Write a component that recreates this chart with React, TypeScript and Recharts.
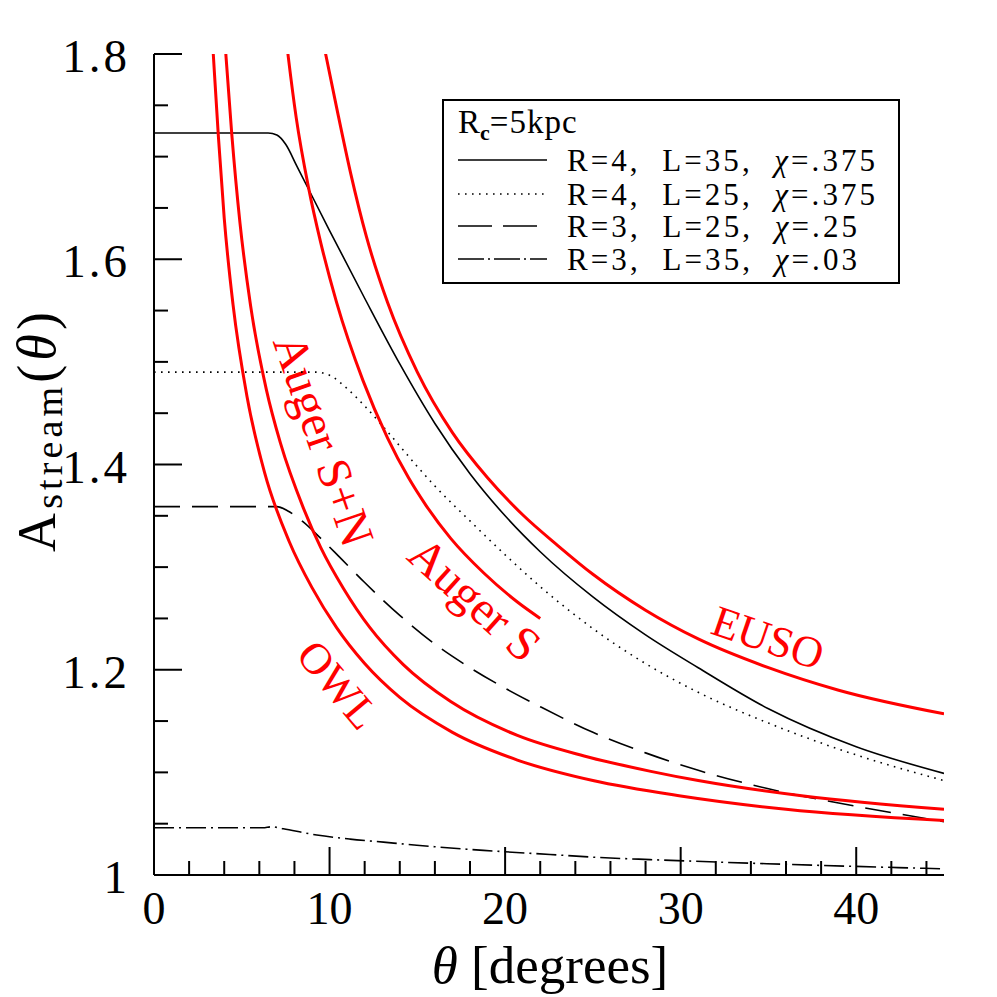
import React from 'react';
import { LineChart, Line, XAxis, YAxis, Customized } from 'recharts';

// ---- tick values ----
const thetaTicks = [0, 2, 4, 6, 8, 10, 12, 14, 16, 18, 20, 22, 24, 26, 28, 30, 32, 34, 36, 38, 40, 42, 44];
const thetaMajor = [0, 10, 20, 30, 40];
const aTicks = [1, 1.05, 1.1, 1.15, 1.2, 1.25, 1.3, 1.35, 1.4, 1.45, 1.5, 1.55, 1.6, 1.65, 1.7, 1.75, 1.8];
const aMajorLabels: Record<string, string> = { '1.00': '1', '1.20': '1.2', '1.40': '1.4', '1.60': '1.6', '1.80': '1.8' };

// ---- series (theta [deg], A_stream) ----
const owl = [[3.2, 1.85], [3.38, 1.799], [3.67, 1.719], [4.0, 1.64], [4.5, 1.556], [5.3, 1.466], [6.3, 1.392], [7.7, 1.325], [9.0, 1.28], [10.4, 1.241], [12.0, 1.206], [14.0, 1.173], [17.0, 1.139], [20.7, 1.112], [25.0, 1.092], [30.0, 1.077], [36.0, 1.064], [45.0, 1.053]];
const augerSN = [[3.9, 1.85], [4.1, 1.798], [4.43, 1.722], [4.9, 1.635], [5.5, 1.555], [6.4, 1.473], [7.2, 1.421], [8.5, 1.358], [9.5, 1.319], [10.8, 1.279], [12.3, 1.241], [14.2, 1.205], [16.9, 1.169], [20.7, 1.136], [24.5, 1.116], [28.3, 1.101], [31.0, 1.092], [37.0, 1.077], [45.0, 1.064]];
const augerS = [[7.3, 1.849], [7.65, 1.797], [8.1, 1.738], [8.8, 1.67], [9.5, 1.616], [10.4, 1.558], [11.9, 1.482], [13.3, 1.426], [14.5, 1.387], [15.5, 1.36], [16.9, 1.328], [18.8, 1.294], [20.7, 1.266], [22.0, 1.25]];
const euso = [[9.2, 1.85], [9.8, 1.798], [10.4, 1.748], [11.2, 1.684], [12.1, 1.622], [13.3, 1.558], [15.0, 1.49], [17.0, 1.431], [19.0, 1.387], [21.0, 1.351], [23.0, 1.321], [25.0, 1.293], [28.0, 1.258], [31.0, 1.23], [35.0, 1.202], [39.0, 1.18], [45.0, 1.157]];
const r4l35 = [[0, 1.723], [6.5, 1.723], [7.0, 1.721], [7.5, 1.712], [8.13, 1.691], [10.0, 1.628], [12.0, 1.562], [14.0, 1.498], [16.0, 1.44], [18.0, 1.391], [20.0, 1.35], [22.0, 1.315], [25.0, 1.271], [28.0, 1.234], [31.0, 1.202], [35.0, 1.162], [40.0, 1.125], [45.0, 1.099]];
const r4l25 = [[0, 1.49], [9.2, 1.49], [10.0, 1.487], [11.0, 1.474], [12.0, 1.457], [13.0, 1.438], [14.0, 1.418], [15.0, 1.398], [16.0, 1.379], [18.0, 1.345], [20.0, 1.312], [22.0, 1.281], [24.0, 1.253], [26.0, 1.228], [28.0, 1.206], [31.0, 1.178], [35.0, 1.148], [40.0, 1.117], [45.0, 1.092]];
const r3l25 = [[0, 1.359], [7.0, 1.359], [7.6, 1.355], [8.5, 1.344], [9.5, 1.328], [10.5, 1.311], [12.0, 1.285], [14.0, 1.253], [16.0, 1.225], [18.0, 1.202], [20.0, 1.182], [22.0, 1.164], [25.0, 1.139], [28.0, 1.119], [31.0, 1.102], [35.0, 1.084], [40.0, 1.067], [45.0, 1.052]];
const r3l35 = [[0, 1.046], [6.2, 1.046], [6.7, 1.047], [7.37, 1.045], [9.27, 1.039], [11.17, 1.035], [13.07, 1.032], [14.97, 1.029], [18.77, 1.024], [22.56, 1.02], [25.4, 1.017], [28.26, 1.015], [34.9, 1.011], [45, 1.006]];

const legendRows = ['R=4,  L=35,  ', 'R=4,  L=25,  ', 'R=3,  L=25,  ', 'R=3,  L=35,  '];
const legendChi = ['=.375', '=.375', '=.25', '=.03'];

const toRows = (pts: number[][]) => pts.map(([t, a]) => ({ t, a }));

const SERIF = '"Liberation Serif", "DejaVu Serif", serif';
const RED = '#ff0000';
const DOT = '1.6 5.4';
const DASH = '26 12';
const DASHDOT = '20 5 2 5';

const isMajorTheta = (v: number) => thetaMajor.includes(v);
const majorA = (v: number) => aMajorLabels[v.toFixed(2)];

const BottomTick = (p: any) => {
  const { x, y, payload } = p;
  const v = payload.value;
  const major = isMajorTheta(v);
  return (
    <g>
      <line x1={x} x2={x} y1={y} y2={y - (major ? 28 : 14)} stroke="#000" strokeWidth={2} />
      {major && (
        <text x={x} y={y + 49} textAnchor="middle" fontSize={46} fontFamily={SERIF} fill="#000">{v}</text>
      )}
    </g>
  );
};
const TopTick = (p: any) => {
  const { x, y, payload } = p;
  const major = isMajorTheta(payload.value);
  return <line x1={x} x2={x} y1={y} y2={y + (major ? 28 : 14)} stroke="#000" strokeWidth={2} />;
};
const LeftTick = (p: any) => {
  const { x, y, payload } = p;
  const lab = majorA(payload.value);
  return (
    <g>
      <line x1={x} x2={x + (lab ? 28 : 14)} y1={y} y2={y} stroke="#000" strokeWidth={2} />
      {lab && (
        <text x={x - 24} y={y + 18} textAnchor="end" fontSize={47} letterSpacing={3} fontFamily={SERIF} fill="#000">{lab}</text>
      )}
    </g>
  );
};
const RightTick = (p: any) => {
  const { x, y, payload } = p;
  const lab = majorA(payload.value);
  return <line x1={x} x2={x - (lab ? 28 : 14)} y1={y} y2={y} stroke="#000" strokeWidth={2} />;
};

const Overlay = () => {
  const rowY = [152, 186, 218, 251];
  const rowLen = [308, 308, 290, 290];
  const dashes = [undefined, DOT, '34 11', '26 4 2 4'];
  return (
    <g fontFamily={SERIF}>
      {/* axis titles */}
      <text x={542} y={975} textAnchor="middle" fontSize={53} fill="#000">
        <tspan fontStyle="italic">θ</tspan>
        <tspan style={{ whiteSpace: 'pre' }}> [degrees]</tspan>
      </text>
      <text transform="translate(47,424) rotate(-90)" textAnchor="middle" fontSize={54} fill="#000" textLength={240} lengthAdjust="spacing">
        <tspan>A</tspan>
        <tspan fontSize={38} dy={7}>stream</tspan>
        <tspan dy={-7}>(</tspan>
        <tspan fontStyle="italic">θ</tspan>
        <tspan>)</tspan>
      </text>
      {/* red curve labels */}
      <text transform="translate(760,630) rotate(19)" textAnchor="middle" dominantBaseline="central" fontSize={44} fill={RED}>EUSO</text>
      <text transform="translate(467,591) rotate(42)" textAnchor="middle" dominantBaseline="central" fontSize={48} fill={RED} style={{ whiteSpace: 'pre' }}>Auger S</text>
      <text transform="translate(316,432) rotate(71)" textAnchor="middle" dominantBaseline="central" fontSize={48} fill={RED} style={{ whiteSpace: 'pre' }}>Auger S+N</text>
      <text transform="translate(330,677) rotate(50)" textAnchor="middle" dominantBaseline="central" fontSize={44} fill={RED}>OWL</text>
      {/* legend */}
      <rect x={435} y={92} width={456} height={183} fill="#fff" stroke="#000" strokeWidth={2} />
      <text x={450} y={125} fontSize={33} fill="#000">
        <tspan>R</tspan>
        <tspan fontSize={22} dy={7} fontWeight="bold">c</tspan>
        <tspan dy={-7} letterSpacing={1}>=5kpc</tspan>
      </text>
      {rowY.map((ry, i) => (
        <g key={i}>
          <line x1={450} x2={539} y1={ry} y2={ry} stroke="#000" strokeWidth={1.6} strokeDasharray={dashes[i]} />
          <text x={559} y={ry + 11} fontSize={31} fill="#000" textLength={rowLen[i]} lengthAdjust="spacing" style={{ whiteSpace: 'pre' }}>
            <tspan>{legendRows[i]}</tspan>
            <tspan fontStyle="italic">χ</tspan>
            <tspan>{legendChi[i]}</tspan>
          </text>
        </g>
      ))}
    </g>
  );
};

export default function App() {
  const common = { xAxisId: 'b', yAxisId: 'l', type: 'monotone' as const, dataKey: 'a', dot: false, isAnimationActive: false };
  return (
    <div style={{ width: 980, height: 989, background: '#fff' }}>
      <LineChart width={980} height={989} margin={{ top: 46, right: 44, left: 66, bottom: 62 }}>
        <XAxis xAxisId="b" orientation="bottom" dataKey="t" type="number" domain={[0, 45]} ticks={thetaTicks} interval={0}
          allowDataOverflow height={60} tickSize={0} tickMargin={0} tickLine={false} tick={<BottomTick />}
          axisLine={{ stroke: '#000', strokeWidth: 2 }} />
        <XAxis xAxisId="t" orientation="top" dataKey="t" type="number" domain={[0, 45]} ticks={thetaTicks} interval={0}
          allowDataOverflow height={0} tickSize={0} tickMargin={0} tickLine={false} tick={<TopTick />}
          axisLine={{ stroke: '#000', strokeWidth: 2 }} />
        <YAxis yAxisId="l" orientation="left" type="number" domain={[1, 1.8]} ticks={aTicks} interval={0}
          allowDataOverflow width={80} tickSize={0} tickMargin={0} tickLine={false} tick={<LeftTick />}
          axisLine={{ stroke: '#000', strokeWidth: 2 }} />
        <YAxis yAxisId="r" orientation="right" type="number" domain={[1, 1.8]} ticks={aTicks} interval={0}
          allowDataOverflow width={0} tickSize={0} tickMargin={0} tickLine={false} tick={<RightTick />}
          axisLine={{ stroke: '#000', strokeWidth: 2 }} />
        <Line {...common} data={toRows(r4l35)} stroke="#000" strokeWidth={1.6} />
        <Line {...common} data={toRows(r4l25)} stroke="#000" strokeWidth={1.6} strokeDasharray={DOT} />
        <Line {...common} data={toRows(r3l25)} stroke="#000" strokeWidth={1.6} strokeDasharray={DASH} />
        <Line {...common} data={toRows(r3l35)} stroke="#000" strokeWidth={1.6} strokeDasharray={DASHDOT} />
        <Line {...common} data={toRows(owl)} stroke={RED} strokeWidth={3} />
        <Line {...common} data={toRows(augerSN)} stroke={RED} strokeWidth={3} />
        <Line {...common} data={toRows(augerS)} stroke={RED} strokeWidth={3} />
        <Line {...common} data={toRows(euso)} stroke={RED} strokeWidth={3} />
        <Customized component={Overlay} />
      </LineChart>
    </div>
  );
}
